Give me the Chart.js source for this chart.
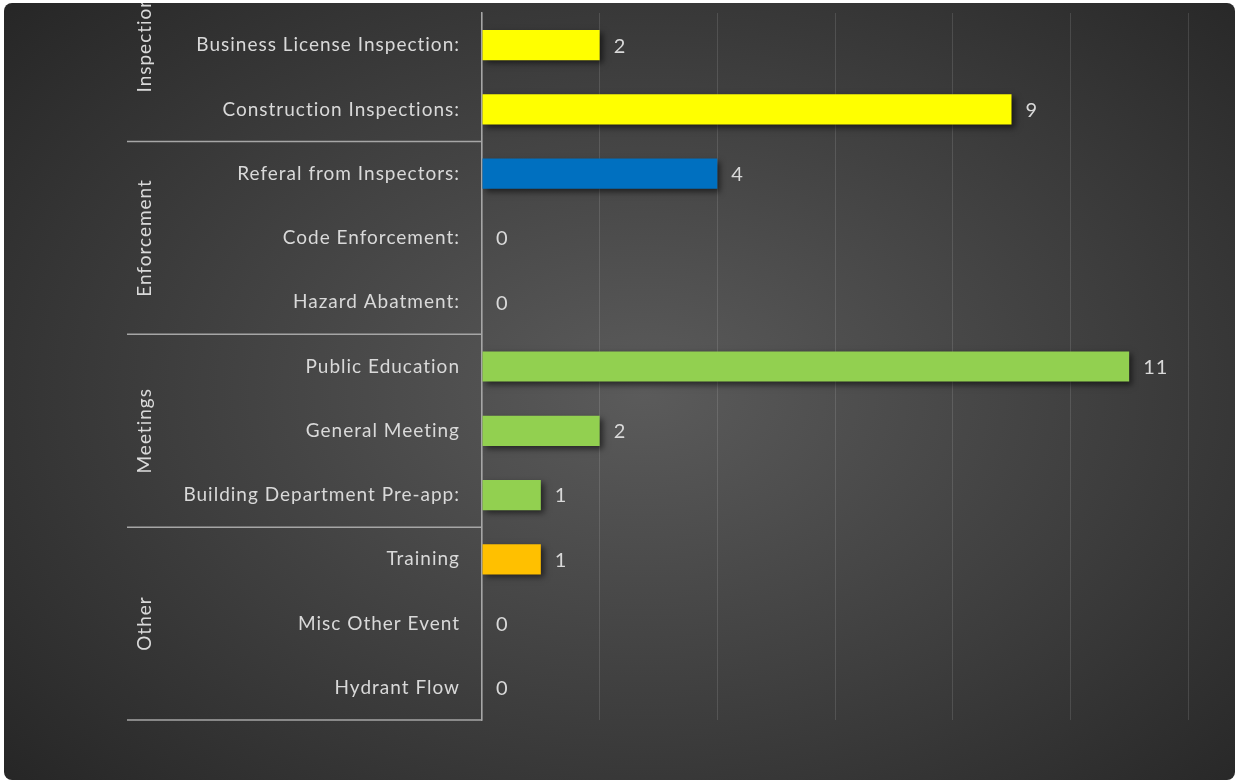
<!DOCTYPE html>
<html>
<head>
<meta charset="utf-8">
<script src="https://cdn.jsdelivr.net/npm/chart.js@4.4.1/dist/chart.umd.min.js"></script>
<style>
  html, body { margin: 0; padding: 0; background: #ffffff; }
  #panel {
    position: absolute; left: 4px; top: 3px; width: 1231px; height: 777px;
    border-radius: 8px; overflow: hidden;
    background: radial-gradient(ellipse 70% 75% at 52% 50%, #5b5b5b 0%, #3e3e3e 55%, #262626 100%);
  }
  #chart { position: absolute; left: 0; top: 0; }
</style>
</head>
<body>
<div id="panel"><canvas id="chart" width="1231" height="777"></canvas></div>
<script>
// ── Data ────────────────────────────────────────────────────
const categories = [
  "Business License Inspection:",
  "Construction Inspections:",
  "Referal from Inspectors:",
  "Code Enforcement:",
  "Hazard Abatment:",
  "Public Education",
  "General Meeting",
  "Building Department Pre-app:",
  "Training",
  "Misc Other Event",
  "Hydrant Flow"
];
const values = [2, 9, 4, 0, 0, 11, 2, 1, 1, 0, 0];
const barColors = [
  "#FFFF00", "#FFFF00",
  "#0070C0", "#0070C0", "#0070C0",
  "#92D050", "#92D050", "#92D050",
  "#FFC000", "#FFC000", "#FFC000"
];
const groups = ["Inspections", "Enforcement", "Meetings", "Other"];
const groupSizes = [2, 3, 3, 3];

const FONT = "Lato, 'Open Sans', sans-serif";
const TEXT = "#d9d9d9";
const LINE = "#a6a6a6";

// ── Plugins ─────────────────────────────────────────────────
// Excel-ish loose letter spacing for every text drawn on the canvas
const spacing = {
  id: "spacing",
  beforeDraw(chart) { chart.ctx.letterSpacing = "1px"; }
};

const barShadow = {
  id: "barShadow",
  beforeDatasetsDraw(chart) {
    const ctx = chart.ctx;
    ctx.save();
    ctx.shadowColor = "rgba(0,0,0,0.55)";
    ctx.shadowBlur = 6;
    ctx.shadowOffsetX = 3;
    ctx.shadowOffsetY = 3;
  },
  afterDatasetsDraw(chart) {
    chart.ctx.restore();
  }
};

const valueLabels = {
  id: "valueLabels",
  afterDatasetsDraw(chart) {
    const ctx = chart.ctx;
    const meta = chart.getDatasetMeta(0);
    ctx.save();
    ctx.font = "20px " + FONT;
    ctx.fillStyle = TEXT;
    ctx.textAlign = "left";
    ctx.textBaseline = "middle";
    meta.data.forEach((bar, i) => {
      ctx.fillText(String(values[i]), bar.x + 14, bar.y + 1);
    });
    ctx.restore();
  }
};

const groupAxis = {
  id: "groupAxis",
  afterDraw(chart) {
    const ctx = chart.ctx;
    const y = chart.scales.y;
    const area = chart.chartArea;
    const step = (area.bottom - area.top) / categories.length;
    ctx.save();
    ctx.strokeStyle = LINE;
    ctx.lineWidth = 1.5;
    ctx.font = "19px " + FONT;
    ctx.fillStyle = TEXT;
    let start = 0;
    groups.forEach((g, gi) => {
      const end = start + groupSizes[gi];
      const top = y.getPixelForValue(start) - step / 2;
      const bottom = y.getPixelForValue(end - 1) + step / 2;
      ctx.beginPath();
      ctx.moveTo(123, bottom);
      ctx.lineTo(area.left, bottom);
      ctx.stroke();
      ctx.save();
      ctx.translate(141, gi === 0 ? bottom - 49 : (top + bottom) / 2);
      ctx.rotate(-Math.PI / 2);
      ctx.textAlign = gi === 0 ? "left" : "center";
      ctx.textBaseline = "middle";
      ctx.fillText(g, 0, 0);
      ctx.restore();
      start = end;
    });
    ctx.restore();
  }
};

// ── Chart ───────────────────────────────────────────────────
new Chart(document.getElementById("chart"), {
  type: "bar",
  data: {
    labels: categories,
    datasets: [{
      data: values,
      backgroundColor: barColors,
      borderWidth: 0,
      barPercentage: 0.94,
      categoryPercentage: 0.5
    }]
  },
  options: {
    indexAxis: "y",
    responsive: false,
    animation: false,
    layout: { padding: { top: 10, bottom: 60, left: 0, right: 47 } },
    plugins: { legend: { display: false }, tooltip: { enabled: false } },
    scales: {
      x: {
        min: 0, max: 12,
        ticks: { display: false, stepSize: 2 },
        grid: { color: "rgba(255,255,255,0.12)", lineWidth: 1, drawTicks: false },
        border: { display: false },
        afterFit(scale) { scale.height = 0; scale.paddingLeft = 0; scale.paddingRight = 0; }
      },
      y: {
        ticks: { color: TEXT, font: { family: FONT, size: 19 }, padding: 22 },
        grid: { display: false, drawTicks: false },
        border: { display: true, color: LINE, width: 1.5 },
        afterFit(scale) {
          scale.width = 478;
          scale.paddingTop = 0;
          scale.paddingBottom = 0;
        }
      }
    }
  },
  plugins: [spacing, barShadow, valueLabels, groupAxis]
});
</script>
</body>
</html>
